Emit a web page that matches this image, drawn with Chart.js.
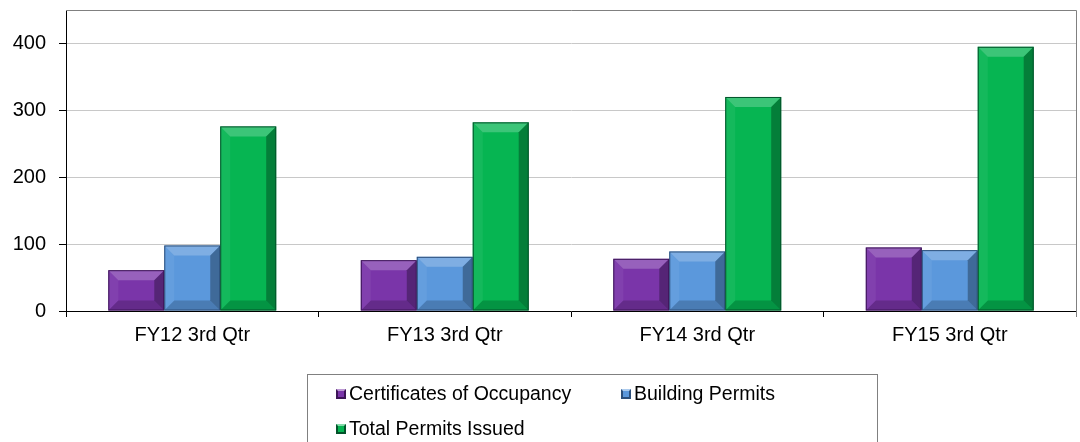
<!DOCTYPE html>
<html>
<head>
<meta charset="utf-8">
<script src="https://cdn.jsdelivr.net/npm/chart.js@4"></script>
<style>
  html, body { margin: 0; padding: 0; background: #fff; }
  #wrap { position: relative; width: 1080px; height: 442px; overflow: hidden; }
  #legend {
    position: absolute; left: 307px; top: 374px; width: 571px; height: 90px;
    border: 1px solid #808080; box-sizing: border-box;
    font-family: "Liberation Sans", Arial, sans-serif; font-size: 19.5px; color: #000;
  }
  .lg-item { position: absolute; display: flex; align-items: center; white-space: nowrap; }
  .lg-box { width: 10px; height: 10px; margin-right: 3px; box-sizing: border-box; }
</style>
</head>
<body>
<div id="wrap">
  <canvas id="permitsChart" width="1080" height="442"></canvas>
  <div id="legend"></div>
</div>
<script>
const categories = ['FY12 3rd Qtr', 'FY13 3rd Qtr', 'FY14 3rd Qtr', 'FY15 3rd Qtr'];
const seriesNames = ['Certificates of Occupancy', 'Building Permits', 'Total Permits Issued'];
const certificates = [61, 76, 78, 95];
const buildingPermits = [98, 81, 89, 91];
const totalPermits = [276, 282, 320, 395];
const yTicks = [0, 100, 200, 300, 400];
const colors = ['#7a35a9', '#5b98dc', '#06b552'];
const edgeColors = ['#3c1456', '#2c4f7a', '#03522a'];

const seriesData = [certificates, buildingPermits, totalPermits];

// bevel look of the bars
const bevelPlugin = {
  id: 'bevel',
  afterDatasetsDraw(chart) {
    const ctx = chart.ctx;
    chart.data.datasets.forEach((ds, i) => {
      const meta = chart.getDatasetMeta(i);
      meta.data.forEach(bar => {
        const p = bar.getProps(['x', 'y', 'base', 'width'], true);
        const l = p.x - p.width / 2, r = p.x + p.width / 2;
        const t = Math.min(p.y, p.base), b = Math.max(p.y, p.base);
        const s = Math.min(10, (b - t) / 3);
        const face = (pts, fill) => {
          ctx.beginPath();
          ctx.moveTo(pts[0][0], pts[0][1]);
          pts.slice(1).forEach(q => ctx.lineTo(q[0], q[1]));
          ctx.closePath();
          ctx.fillStyle = fill;
          ctx.fill();
        };
        ctx.save();
        face([[l, t], [r, t], [r - s, t + s], [l + s, t + s]], 'rgba(255,255,255,0.22)');
        face([[l, t], [l + s, t + s], [l + s, b - s], [l, b]], 'rgba(255,255,255,0.06)');
        face([[r, t], [r, b], [r - s, b - s], [r - s, t + s]], 'rgba(0,0,0,0.3)');
        face([[l, b], [l + s, b - s], [r - s, b - s], [r, b]], 'rgba(0,0,0,0.18)');
        ctx.strokeStyle = edgeColors[i];
        ctx.lineWidth = 1;
        ctx.strokeRect(l + 0.5, t + 0.5, r - l - 1, b - t - 1);
        ctx.restore();
      });
    });
  }
};

// plot area frame (grey top / right)
const framePlugin = {
  id: 'frame',
  beforeDatasetsDraw(chart) {
    const { ctx, chartArea: a } = chart;
    ctx.save();
    ctx.strokeStyle = '#808080';
    ctx.lineWidth = 1;
    ctx.beginPath();
    ctx.moveTo(a.left, a.top + 0.5);
    ctx.lineTo(a.right + 0.5, a.top + 0.5);
    ctx.lineTo(a.right + 0.5, a.bottom + 6);
    ctx.stroke();
    ctx.restore();
  }
};

const tickFont = { family: '"Liberation Sans", Arial, sans-serif', size: 20 };

new Chart(document.getElementById('permitsChart').getContext('2d'), {
  type: 'bar',
  data: {
    labels: categories,
    datasets: seriesNames.map((name, i) => ({
      label: name,
      data: seriesData[i],
      backgroundColor: colors[i],
      borderWidth: 0,
      barPercentage: 1,
      categoryPercentage: 0.665
    }))
  },
  options: {
    responsive: false,
    animation: false,
    layout: { padding: { top: 10, right: 4, left: 0, bottom: 0 } },
    plugins: { legend: { display: false }, tooltip: { enabled: false } },
    scales: {
      x: {
        offset: true,
        border: { color: '#000', width: 1 },
        grid: { offset: true, drawOnChartArea: false, drawTicks: true, tickLength: 6, tickColor: '#000' },
        ticks: { color: '#000', font: tickFont, padding: 6, maxRotation: 0 },
        afterFit: s => { s.height = 131; s.paddingLeft = 0; s.paddingRight = 0; }
      },
      y: {
        min: 0,
        max: 450,
        border: { color: '#000', width: 1 },
        grid: { color: '#c8c8c8', tickLength: 7, tickColor: '#000' },
        ticks: { color: '#000', font: tickFont, padding: 13, stepSize: 100 },
        afterBuildTicks: s => { s.ticks = yTicks.map(v => ({ value: v })); },
        afterFit: s => { s.width = 66; s.paddingTop = 0; s.paddingBottom = 0; }
      }
    }
  },
  plugins: [framePlugin, bevelPlugin]
});

// legend (two columns, as in the source)
const legend = document.getElementById('legend');
const slots = [[28, 7], [313, 7], [28, 42]];
seriesNames.forEach((name, i) => {
  const item = document.createElement('div');
  item.className = 'lg-item';
  item.style.left = slots[i][0] + 'px';
  item.style.top = slots[i][1] + 'px';
  const box = document.createElement('span');
  box.className = 'lg-box';
  box.style.background = colors[i];
  box.style.border = '2px solid ' + edgeColors[i];
  box.style.borderTopColor = 'rgba(255,255,255,0.5)';
  const txt = document.createElement('span');
  txt.textContent = name;
  item.appendChild(box);
  item.appendChild(txt);
  legend.appendChild(item);
});
</script>
</body>
</html>
